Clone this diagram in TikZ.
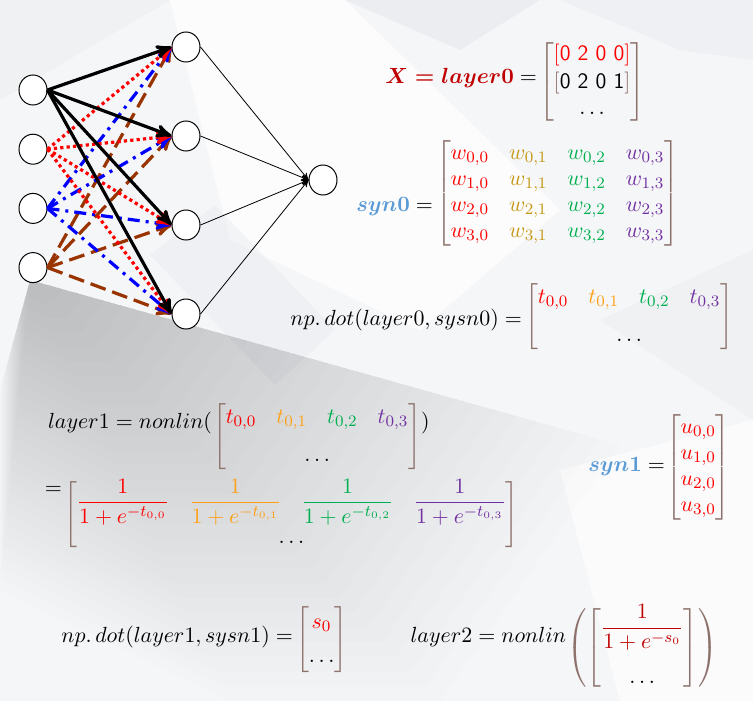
\documentclass[tikz,border=0pt]{standalone}
\usepackage{amsmath,amssymb}
\usepackage{xcolor}
\usepackage{tikz}
\usetikzlibrary{positioning}
\usetikzlibrary{arrows,shapes.geometric}

\definecolor{dred}{RGB}{192,0,0}
\definecolor{skyb}{RGB}{91,155,213}
\definecolor{brk}{RGB}{140,112,106}
\definecolor{cR}{RGB}{255,0,0}
\definecolor{cY}{RGB}{196,152,20}
\definecolor{cO}{RGB}{255,160,20}
\definecolor{cG}{RGB}{0,176,80}
\definecolor{cP}{RGB}{112,48,160}
\definecolor{brn}{RGB}{153,51,0}
\definecolor{bgbase}{RGB}{245,246,248}
\definecolor{bgdark}{RGB}{230,232,236}

\newcommand{\bmat}[1]{{\color{brk}\left[\color{black}\begin{matrix}#1\end{matrix}\color{brk}\right]}}
\newcommand{\sig}[2]{\textcolor{#1}{\dfrac{1}{1+e^{-#2}}}}

\tikzset{
  neuron/.style={ellipse,draw,fill=white,inner sep=0pt,minimum width=14pt,minimum height=15pt,line width=0.5pt},
  eq/.style={inner sep=0pt,outer sep=0pt},
  blk/.style={black,line width=1.6pt},
  rdot/.style={red,line width=1.6pt,dash pattern=on 1.6pt off 1.6pt},
  bdash/.style={blue,line width=1.6pt,dash pattern=on 6pt off 3pt on 1.5pt off 3pt},
  brdash/.style={brn,line width=1.6pt,dash pattern=on 8pt off 3.5pt},
  outl/.style={black,line width=0.4pt}
}

\begin{document}
\begin{tikzpicture}[->,>=stealth',x=0.5pt,y=-0.5pt,font=\fontsize{11}{13}\selectfont]
\useasboundingbox (0,0) rectangle (753,701);
% background
\fill[bgbase] (0,0) rectangle (753,701);
\fill[bgdark,opacity=.35] (0,0) -- (170,0) -- (0,100) -- cycle;
\fill[bgdark,opacity=.6] (345,0) -- (540,0) -- (460,50) -- cycle;
\fill[bgdark,opacity=.4] (560,0) -- (753,0) -- (753,60) -- (680,50) -- cycle;
\fill[white,opacity=.7] (170,0) -- (345,0) -- (560,210) -- (420,330) -- (230,240) -- cycle;
\fill[bgdark,opacity=.4] (150,255) -- (215,205) -- (335,330) -- (275,385) -- cycle;
\fill[bgdark,opacity=.35] (600,320) -- (753,250) -- (753,420) -- cycle;
\fill[white,opacity=.6] (560,470) -- (753,420) -- (753,701) -- (620,701) -- cycle;
% grey wedge below the network, darker toward its tip
\foreach \k in {0,...,27}{
  \fill[black,opacity=0.0082,scale around={1-\k*0.035:(30,280)}]
    (30,280) -- (620,445) -- (440,701) -- (230,701) -- (0,590) -- (0,390) -- cycle;
}

% network
\begin{scope}[node distance=29.6pt]
  \node[neuron] (i1) at (33,90) {};
  \node[neuron] (i2) [below of=i1] {};
  \node[neuron] (i3) [below of=i2] {};
  \node[neuron] (i4) [below of=i3] {};
\end{scope}
\begin{scope}[node distance=44.5pt]
  \node[neuron] (h1) at (186,47) {};
  \node[neuron] (h2) [below of=h1] {};
  \node[neuron] (h3) [below of=h2] {};
  \node[neuron] (h4) [below of=h3] {};
\end{scope}
\node[neuron] (o) at (323,180) {};

\foreach \h in {1,2,3,4}{
  \path (i4.east) edge[brdash] (h\h.west);
  \path (i3.east) edge[bdash] (h\h.west);
  \path (i2.east) edge[rdot] (h\h.west);
  \path (i1.east) edge[blk] (h\h.west);
  \path (h\h.east) edge[outl] (o.west);
}

% equations
\node[eq,anchor=east] (xl) at (537,78) {$\textcolor{dred}{\boldsymbol{X = layer0}} =$};
\node[eq,anchor=west] (xm) at (539,82) {$\bmat{\textcolor{cR}{[\textsf{0 2 0 0}]}\\[1pt]
  {\color{brk}[}\textsf{0 2 0 1}{\color{brk}]}\\ \ldots}$};

\node[eq,anchor=east] (s0l) at (433,207) {$\textcolor{skyb}{\boldsymbol{syn0}} =$};
\node[eq,anchor=west] (s0m) at (436,193) {$\bmat{
  \textcolor{cR}{w_{0,0}} & \textcolor{cY}{w_{0,1}} & \textcolor{cG}{w_{0,2}} & \textcolor{cP}{w_{0,3}}\\
  \textcolor{cR}{w_{1,0}} & \textcolor{cY}{w_{1,1}} & \textcolor{cG}{w_{1,2}} & \textcolor{cP}{w_{1,3}}\\
  \textcolor{cR}{w_{2,0}} & \textcolor{cY}{w_{2,1}} & \textcolor{cG}{w_{2,2}} & \textcolor{cP}{w_{2,3}}\\
  \textcolor{cR}{w_{3,0}} & \textcolor{cY}{w_{3,1}} & \textcolor{cG}{w_{3,2}} & \textcolor{cP}{w_{3,3}}}$};

\node[eq,anchor=east] (d0l) at (522,320) {$np.\,dot(layer0, sysn0) =$};
\node[eq,anchor=west] (d0m) at (525,317) {$\bmat{
  \textcolor{cR}{t_{0,0}} & \textcolor{cO}{t_{0,1}} & \textcolor{cG}{t_{0,2}} & \textcolor{cP}{t_{0,3}}\\[6pt]
  \multicolumn{4}{c}{\ldots}}$};

\node[eq,anchor=east] (l1l) at (212,423) {$layer1 = nonlin($};
\node[eq,anchor=west] (l1m) at (213,437) {$\bmat{
  \textcolor{cR}{t_{0,0}} & \textcolor{cO}{t_{0,1}} & \textcolor{cG}{t_{0,2}} & \textcolor{cP}{t_{0,3}}\\[6pt]
  \multicolumn{4}{c}{\ldots}}$};
\node[eq,anchor=west] (l1r) at (l1m.east |- l1l) {$)$};

\node[eq,anchor=east] (e2) at (62,490) {$=$};
\node[eq,anchor=west] (fm) at (64,515) {\arraycolsep=5pt$\bmat{
  \sig{cR}{t_{0,0}} & \sig{cO}{t_{0,1}} & \sig{cG}{t_{0,2}} & \sig{cP}{t_{0,3}}\\[4pt]
  \multicolumn{4}{c}{\ldots}}$};

\node[eq,anchor=east] (s1l) at (665,467) {$\textcolor{skyb}{\boldsymbol{syn1}} =$};
\node[eq,anchor=west] (s1m) at (666,467) {$\bmat{\textcolor{cR}{u_{0,0}}\\ \textcolor{cR}{u_{1,0}}\\
  \textcolor{cR}{u_{2,0}}\\ \textcolor{cR}{u_{3,0}}}$};

\node[eq,anchor=east] (d1l) at (293,637) {$np.\,dot(layer1, sysn1) =$};
\node[eq,anchor=west] (d1m) at (296,640) {$\bmat{\textcolor{cR}{s_0}\\[4pt] \ldots}$};

\node[eq,anchor=east] (l2l) at (566,637) {$layer2 = nonlin$};
\node[eq,anchor=west] (l2m) at (567,648) {${\color{brk}\left(\color{black}\bmat{\sig{dred}{s_0}\\[12pt] \ldots}\color{brk}\right)}$};
\end{tikzpicture}
\end{document}
